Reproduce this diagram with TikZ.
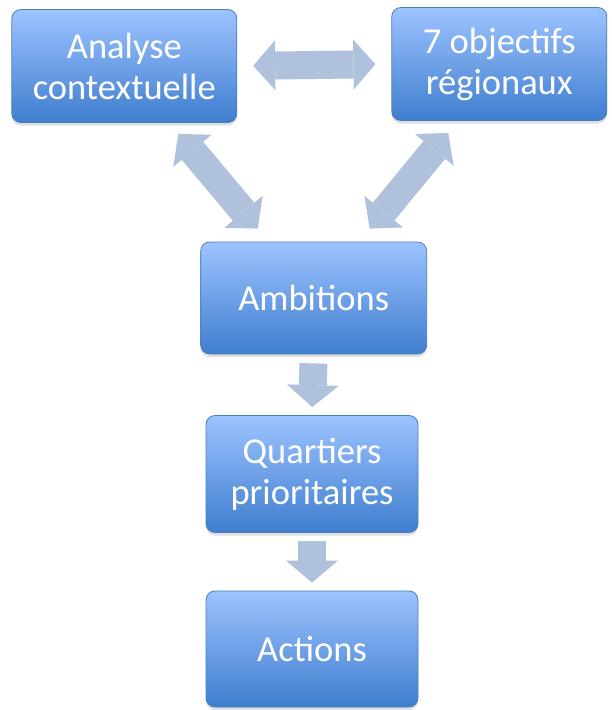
\documentclass[tikz,border=0pt]{standalone}
\usepackage{fontspec}
\setmainfont{Carlito}
\usetikzlibrary{arrows.meta,shadows}

\definecolor{boxtop}{HTML}{9DC3FF}
\definecolor{boxbottom}{HTML}{3F7ECF}
\definecolor{boxline}{HTML}{4A7EBB}
\definecolor{flow}{HTML}{B0C1DC}

\begin{document}
\begin{tikzpicture}[x=1pt, y=-1pt,
    box/.style={rectangle, rounded corners=9pt, draw=boxline, line width=0.8pt,
      top color=boxtop, bottom color=boxbottom, text=white, align=center,
      inner sep=0pt, font=\fontsize{36.5}{41}\selectfont,
      drop shadow={shadow xshift=0pt, shadow yshift=-3pt, opacity=0.25}},
    blockarrow/.style={draw=flow, line width=28pt,
      -{Triangle[length=22pt, width=52pt, line width=0pt, fill=flow]}},
    twoway/.style={draw=flow, line width=28pt,
      {Triangle[length=22pt, width=50pt, line width=0pt, fill=flow]}-{Triangle[length=22pt, width=50pt, line width=0pt, fill=flow]}}]
  \useasboundingbox (0,0) rectangle (611,710);

  \node[box, minimum width=225pt, minimum height=113pt] (ana) at (124.3, 66) {Analyse\\contextuelle};
  \node[box, minimum width=215pt, minimum height=113pt] (obj) at (499.3, 64) {7 objectifs\\régionaux};
  \node[box, minimum width=226pt, minimum height=112pt] (amb) at (313.7, 298) {Ambitions};
  \node[box, minimum width=212pt, minimum height=117pt] (qua) at (312, 474) {Quartiers\\prioritaires};
  \node[box, minimum width=212pt, minimum height=116pt] (act) at (312, 649) {Actions};

  \draw[twoway, shorten <=16pt, shorten >=16pt] (ana.east) -- (obj.west);
  \draw[twoway] ([xshift=54pt, yshift=-11pt]ana.south) -- ([xshift=-56pt, yshift=13pt]amb.north);
  \draw[twoway] ([xshift=-51pt, yshift=-12pt]obj.south) -- ([xshift=56pt, yshift=13pt]amb.north);
  \draw[blockarrow, shorten <=9pt, shorten >=8pt] (amb.south) -- (qua.north);
  \draw[blockarrow, shorten <=8pt, shorten >=8pt] (qua.south) -- (act.north);
\end{tikzpicture}
\end{document}
